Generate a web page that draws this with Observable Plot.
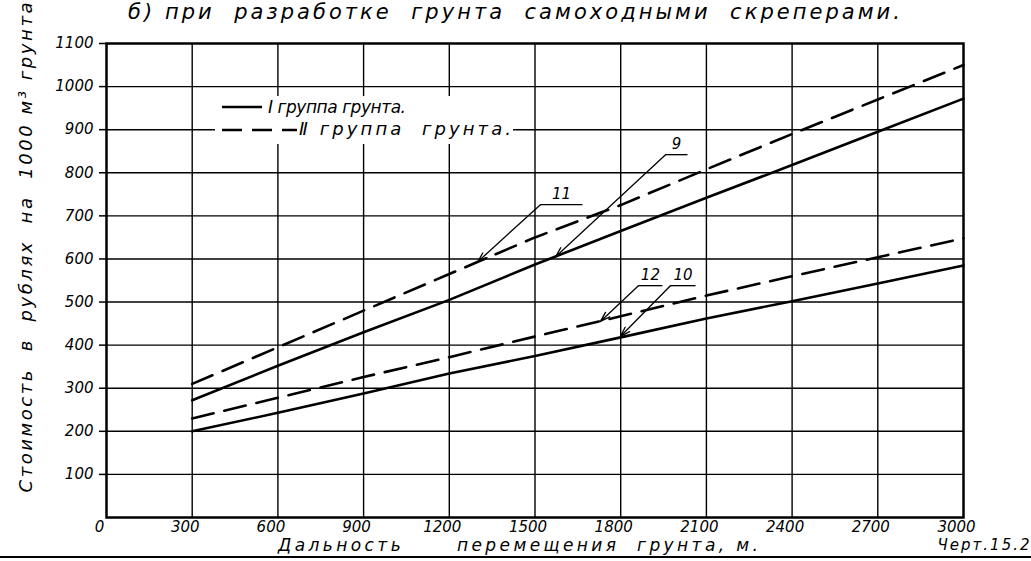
<!DOCTYPE html>
<html><head><meta charset="utf-8">
<script src="https://cdn.jsdelivr.net/npm/d3@7"></script>
<script src="https://cdn.jsdelivr.net/npm/@observablehq/plot@0.6"></script>
<style>
body{margin:0;background:#fff;}
#wrap{position:relative;width:1031px;height:561px;overflow:hidden;background:#fff;font-family:"DejaVu Sans",sans-serif;font-style:italic;color:#000;}
#title{position:absolute;left:0;top:0;}
#chart{position:absolute;left:0;top:30px;}
#chart svg{overflow:visible;}
#legend{position:absolute;left:215px;top:96px;}
#frameLine{position:absolute;left:0;top:556px;width:1031px;height:0;border-top:2.5px solid #000;}
svg text{white-space:pre;}
</style></head>
<body><div id="wrap">
<svg id="title" width="1031" height="30">
  <text x="128" y="19" font-family="DejaVu Sans" font-style="italic" font-size="21" textLength="772" lengthAdjust="spacing" style="white-space:pre">б) при  разработке  грунта  самоходными  скреперами.</text>
</svg>
<div id="chart"></div>
<div id="frameLine"></div>
<svg id="legend" width="298" height="48" style="background:#fff">
  <line x1="7" y1="11" x2="47" y2="11" stroke="#000" stroke-width="2.5"/>
  <text x="53" y="17" font-family="DejaVu Sans" font-style="italic" font-size="17" textLength="138" lengthAdjust="spacing" style="white-space:pre">Ⅰ группа грунта.</text>
  <line x1="7" y1="34" x2="82" y2="34" stroke="#000" stroke-width="2.5" stroke-dasharray="20,10"/>
  <text x="84" y="39" font-family="DejaVu Sans" font-style="italic" font-size="18" textLength="212" lengthAdjust="spacing" style="white-space:pre">Ⅱ группа  грунта.</text>
</svg>
</div>
<script>
// Дальность перемещения грунта, м
const distance = [300, 600, 900, 1200, 1500, 1800, 2100, 2400, 2700, 3000];
// Стоимость, руб. на 1000 м³
const curve9  = [272, 352, 430, 505, 587, 665, 742, 818, 895, 972];   // I группа (9)
const curve11 = [310, 395, 480, 565, 650, 725, 808, 890, 970, 1050];  // II группа (11)
const curve10 = [200, 243, 288, 334, 375, 418, 462, 502, 543, 585];   // I группа (10)
const curve12 = [230, 278, 326, 372, 420, 467, 515, 560, 604, 648];   // II группа (12)

const xTicks = [0, 300, 600, 900, 1200, 1500, 1800, 2100, 2400, 2700, 3000];
const yTicks = [100, 200, 300, 400, 500, 600, 700, 800, 900, 1000, 1100];
const gridX = [300, 600, 900, 1200, 1500, 1800, 2100, 2400, 2700];
const gridY = [100, 200, 300, 400, 500, 600, 700, 800, 900, 1000];

// callouts: label, underline start/end, arrow tip
const calloutLabel = ["9", "11", "12", "10"];
const calloutFromX = [1957, 1519, 1862, 1974];
const calloutToX   = [2034, 1666, 1946, 2062];
const calloutY     = [842, 726, 538, 538];
const tipX = [1572, 1299, 1729, 1799];
const tipY = [605, 593, 455, 420];

const yLabel = "Стоимость  в  рублях  на  1000 м³ грунта";
const xLabel = "Дальность      перемещения  грунта, м.";
const sheetLabel = "Черт.15.2";

const series = [
  {name: "9", group: "I", values: curve9},
  {name: "11", group: "II", values: curve11},
  {name: "10", group: "I", values: curve10},
  {name: "12", group: "II", values: curve12}
];
const rows = series.flatMap(s => s.values.map((v, i) => ({curve: s.name, group: s.group, d: distance[i], cost: v})));
const callouts = calloutLabel.map((l, i) => ({label: l, x0: calloutFromX[i], x1: calloutToX[i], y: calloutY[i], tx: tipX[i], ty: tipY[i]}));

const chart = Plot.plot({
  width: 1031, height: 531,
  marginTop: 13, marginBottom: 44, marginLeft: 106, marginRight: 68,
  x: {domain: [0, 3000]},
  y: {domain: [0, 1100]},
  style: {fontFamily: "DejaVu Sans", fontStyle: "italic", background: "transparent", color: "black", overflow: "visible"},
  marks: [
    Plot.ruleX(gridX, {stroke: "#000", strokeWidth: 1.4}),
    Plot.ruleY(gridY, {stroke: "#000", strokeWidth: 1.4}),
    Plot.axisY(yTicks, {tickSize: 7, tickPadding: 6, fontSize: 15, label: null, strokeWidth: 1.5, tickFormat: d => String(d)}),
    Plot.axisX(xTicks, {tickSize: 0, tickPadding: 4, fontSize: 15, label: null, dx: -7, tickFormat: d => String(d)}),
    Plot.line(rows.filter(r => r.group === "I"), {x: "d", y: "cost", z: "curve", stroke: "#000", strokeWidth: 2.6}),
    Plot.line(rows.filter(r => r.group === "II"), {x: "d", y: "cost", z: "curve", stroke: "#000", strokeWidth: 2.6, strokeDasharray: "22,11"}),
    Plot.link(callouts, {x1: "x0", x2: "x1", y1: "y", y2: "y", stroke: "#000", strokeWidth: 1.3}),
    Plot.arrow(callouts, {x1: "x0", y1: "y", x2: "tx", y2: "ty", stroke: "#000", strokeWidth: 1.3, headLength: 12, headAngle: 35}),
    Plot.text(callouts, {x: d => (d.x0 + d.x1) / 2, y: "y", text: "label", dy: -10, fontSize: 15}),
    Plot.frame({stroke: "#000", strokeWidth: 2.5}),
    Plot.text([yLabel], {frameAnchor: "left", textAnchor: "middle", rotate: -90, dx: -80, dy: -33, fontSize: 18}),
    Plot.text([xLabel], {frameAnchor: "bottom", textAnchor: "middle", dx: -17, dy: 33, fontSize: 17}),
    Plot.text([sheetLabel], {frameAnchor: "bottom-right", textAnchor: "end", dx: 66, dy: 32, fontSize: 15})
  ]
});
d3.select(chart).selectAll("text").each(function() {
  const t = this.textContent;
  const s = d3.select(this).style("white-space", "pre");
  if (t === yLabel) s.attr("textLength", 490).attr("lengthAdjust", "spacing");
  if (t === xLabel) s.attr("textLength", 480).attr("lengthAdjust", "spacing");
  if (t === sheetLabel) s.attr("textLength", 92).attr("lengthAdjust", "spacing");
});
document.getElementById("chart").appendChild(chart);
</script>
</body></html>
